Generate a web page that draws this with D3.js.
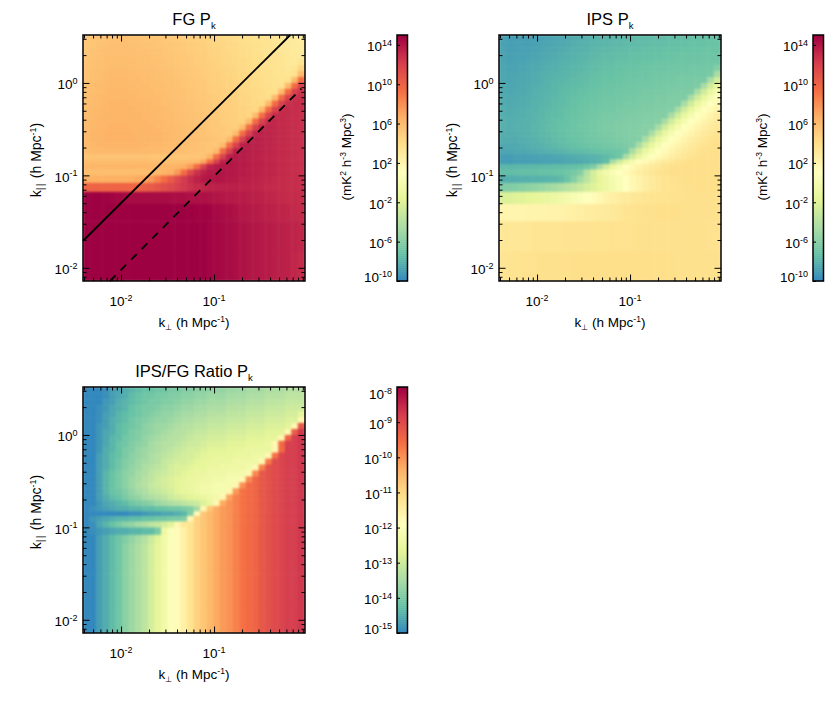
<!DOCTYPE html>
<html>
<head>
<meta charset="utf-8">
<script src="https://cdn.jsdelivr.net/npm/d3@7"></script>
<style>
html, body { margin: 0; padding: 0; background: #fff; }
text { font-family: "Liberation Sans", Arial, sans-serif; fill: #000; }
</style>
</head>
<body>
<svg id="chart" width="830" height="704"></svg>
<script>
// bin edges (h/Mpc)
var kPerpEdges = [.00389,.00457,.00537,.00631,.00741,.00871,.01023,.01202,.01413,.0166,.0195,.0229,.0269,.0316,.0372,.0437,.0513,.0603,.0708,.0832,.0977,.1148,.1349,.1585,.1862,.2188,.257,.302,.3548,.4169,.4898,.5754,.6761,.7943,.95];
var kParEdges = [3.3,2.83,2.44,2.1,1.82,1.56,1.35,1.16,1,.865,.746,.644,.555,.479,.413,.356,.307,.265,.228,.197,.17,.149,.133,.116,.0996,.083,.0663,.049,.032,.0149,.0072];

var xMajor = [.01, .1];
var xMinor = [.004,.005,.006,.007,.008,.009,.02,.03,.04,.05,.06,.07,.08,.09,.2,.3,.4,.5,.6,.7,.8,.9];
var yMajor = [.01, .1, 1];
var yMinor = [.008,.009,.02,.03,.04,.05,.06,.07,.08,.09,.2,.3,.4,.5,.6,.7,.8,.9,2,3];

// spectral, reversed, without the violet end
var spectralStops = ["#3288bd","#66c2a5","#abdda4","#e6f598","#ffffbf","#fee08b","#fdae61","#f46d43","#d53e4f","#9e0142"];

var pkBarDomain = [-10, 15], pkBarTicks = [-10, -6, -2, 2, 6, 10, 14];
var ratioBarDomain = [-15, -8], ratioBarTicks = [-15, -14, -13, -12, -11, -10, -9, -8];

// delay lines: horizon (solid), beam (dashed)
var horizonPerp = [.00389, .66], horizonPar = [.0195, 3.3];
var beamPerp = [.0076, .87], beamPar = [.0072, .87];

// log10 of the power, rows from the top of the plot
var fgLogPk = [
[5.2,5.4,5.5,5.6,5.6,5.6,5.6,5.6,5.5,5.5,5.4,5.4,5.3,5.2,5.1,5,4.9,4.8,4.7,4.6,4.5,4.3,4.2,4.1,4,3.9,3.7,3.6,3.5,3.3,3.2,3.1,2.9,2.8],
[5.3,5.4,5.5,5.6,5.7,5.7,5.7,5.6,5.6,5.5,5.5,5.4,5.3,5.3,5.2,5.1,5,4.9,4.8,4.6,4.5,4.4,4.3,4.2,4,3.9,3.8,3.7,3.5,3.4,3.3,3.1,3,2.9],
[5.3,5.5,5.6,5.7,5.7,5.7,5.7,5.7,5.6,5.6,5.5,5.5,5.4,5.3,5.2,5.1,5,4.9,4.8,4.7,4.6,4.4,4.3,4.2,4.1,4,3.8,3.7,3.6,3.4,3.3,3.2,3,2.9],
[5.4,5.5,5.6,5.7,5.8,5.8,5.8,5.7,5.7,5.6,5.6,5.5,5.4,5.4,5.3,5.2,5.1,5,4.9,4.7,4.6,4.5,4.4,4.3,4.1,4,3.9,3.8,3.6,3.5,3.4,3.2,3.1,3],
[5.4,5.6,5.7,5.8,5.8,5.8,5.8,5.8,5.7,5.7,5.6,5.6,5.5,5.4,5.3,5.2,5.1,5,4.9,4.8,4.7,4.5,4.4,4.3,4.2,4.1,3.9,3.8,3.7,3.5,3.4,3.3,3.1,3.4],
[5.5,5.6,5.7,5.8,5.9,5.9,5.9,5.8,5.8,5.7,5.7,5.6,5.5,5.5,5.4,5.3,5.2,5.1,5,4.8,4.7,4.6,4.5,4.4,4.2,4.1,4,3.9,3.7,3.6,3.5,3.3,3.4,4.5],
[5.5,5.7,5.8,5.9,5.9,5.9,5.9,5.9,5.8,5.8,5.7,5.7,5.6,5.5,5.4,5.3,5.2,5.1,5,4.9,4.8,4.6,4.5,4.4,4.3,4.2,4,3.9,3.8,3.6,3.5,3.4,3.7,6],
[5.6,5.7,5.8,5.9,6,6,6,5.9,5.9,5.8,5.8,5.7,5.6,5.6,5.5,5.4,5.3,5.2,5.1,4.9,4.8,4.7,4.6,4.5,4.3,4.2,4.1,4,3.8,3.7,3.6,3.7,6,9.5],
[5.6,5.8,5.9,6,6,6,6,6,5.9,5.9,5.8,5.8,5.7,5.6,5.5,5.4,5.3,5.2,5.1,5,4.9,4.7,4.6,4.5,4.4,4.3,4.1,4,3.9,3.7,3.7,6,9.5,12],
[5.7,5.8,5.9,6,6.1,6.1,6.1,6,6,5.9,5.9,5.8,5.7,5.7,5.6,5.5,5.4,5.3,5.2,5,4.9,4.8,4.7,4.6,4.4,4.3,4.2,4.1,3.9,3.8,6,9.5,12,12.7],
[5.7,5.9,6,6.1,6.1,6.1,6.1,6.1,6,6,5.9,5.9,5.8,5.7,5.6,5.5,5.4,5.3,5.2,5.1,5,4.8,4.7,4.6,4.5,4.4,4.2,4.1,4,6,9.5,12,12.8,12.9],
[5.8,5.9,6,6.1,6.2,6.2,6.2,6.1,6.1,6,6,5.9,5.8,5.8,5.7,5.6,5.5,5.4,5.3,5.1,5,4.9,4.8,4.7,4.5,4.4,4.3,4.2,6,9.5,12,12.9,13,12.9],
[5.8,6,6.1,6.2,6.2,6.2,6.2,6.2,6.1,6.1,6,6,5.9,5.8,5.7,5.6,5.5,5.4,5.3,5.2,5.1,4.9,4.8,4.7,4.6,4.5,4.3,6,9.5,12,13,13.1,13,12.9],
[5.9,6,6.1,6.2,6.3,6.3,6.3,6.2,6.2,6.1,6.1,6,5.9,5.9,5.8,5.7,5.6,5.5,5.4,5.2,5.1,5,4.9,4.8,4.6,4.5,6,9.5,12,13.1,13.2,13.1,13,12.9],
[5.9,6.1,6.2,6.3,6.3,6.3,6.3,6.3,6.2,6.2,6.1,6.1,6,5.9,5.8,5.7,5.6,5.5,5.4,5.3,5.2,5,4.9,4.8,4.7,6,9.5,12,13.2,13.3,13.2,13.1,13,12.9],
[6,6.1,6.2,6.3,6.4,6.4,6.4,6.3,6.3,6.2,6.2,6.1,6,6,5.9,5.8,5.7,5.6,5.5,5.3,5.2,5.1,5,4.9,6,9.5,12,13.3,13.4,13.3,13.2,13.1,13,12.9],
[6,6.2,6.3,6.4,6.4,6.4,6.4,6.4,6.3,6.3,6.2,6.2,6.1,6,5.9,5.8,5.7,5.6,5.5,5.4,5.3,5.1,5,6,9.5,12,13.4,13.5,13.4,13.3,13.2,13.1,13,12.9],
[6,6.2,6.3,6.4,6.4,6.4,6.4,6.4,6.3,6.3,6.2,6.2,6.1,6,5.9,5.8,5.8,5.7,5.6,5.5,5.4,5.2,6,9.5,12,13.5,13.6,13.5,13.4,13.3,13.2,13.1,13,12.9],
[6,6.1,6.2,6.3,6.3,6.3,6.3,6.3,6.2,6.2,6.1,6.1,6,5.9,5.9,5.8,5.7,5.6,5.5,5.4,5.3,6,9.5,12,13.6,13.7,13.6,13.5,13.4,13.3,13.2,13.1,13,12.9],
[5.9,6,6.1,6.1,6.1,6.1,6.1,6.1,6.1,6,6,6,5.9,5.9,5.8,5.7,5.6,5.6,5.5,5.4,6,9.5,12,13.7,13.8,13.7,13.6,13.5,13.4,13.3,13.2,13.1,13,12.9],
[5.4,5.5,5.5,5.5,5.5,5.5,5.5,5.5,5.5,5.5,5.4,5.4,5.4,5.4,5.4,5.4,5.4,5.4,5.5,6.5,9.5,12,13.7,13.9,13.8,13.7,13.6,13.5,13.4,13.3,13.2,13.1,13,12.9],
[5.8,5.9,5.9,5.9,5.9,5.9,5.9,5.9,5.9,5.9,5.8,5.8,5.8,5.8,5.8,5.8,5.9,6,7,9.5,12,13.6,13.9,13.9,13.8,13.7,13.6,13.5,13.4,13.3,13.2,13.1,13,12.9],
[6.1,6.2,6.2,6.2,6.2,6.2,6.2,6.2,6.2,6.2,6.2,6.2,6.2,6.3,6.4,6.6,7.5,9.5,12,13.5,13.9,14,14,13.9,13.8,13.7,13.6,13.5,13.4,13.3,13.2,13.1,13,12.9],
[5.7,5.8,5.8,5.8,5.8,5.8,5.8,5.8,5.8,5.8,5.9,6,6.2,6.5,7.5,9.5,11.5,12.8,13.5,13.9,14,14.1,14,13.9,13.8,13.7,13.6,13.5,13.4,13.3,13.2,13.1,13,12.9],
[6.4,6.5,6.5,6.5,6.5,6.5,6.5,6.6,6.8,7,7.5,8.5,9.5,10.5,11.5,12.3,13,13.5,13.9,14.1,14.1,14,13.9,13.8,13.7,13.6,13.5,13.4,13.3,13.2,13.1,13,13,12.9],
[10,10,10,10,10,10,10,10,10.1,10.3,10.5,10.8,11.2,11.6,12,12.4,12.8,13.1,13.3,13.5,13.6,13.6,13.6,13.6,13.5,13.5,13.4,13.3,13.2,13.1,13.1,13,13,12.9],
[15.2,15.2,15.2,14.9,14.8,14.7,14.6,14.5,14.5,14.5,14.5,14.5,14.5,14.4,14.4,14.4,14.3,14.3,14.3,14.2,14.1,14,13.9,13.8,13.8,13.7,13.6,13.5,13.4,13.3,13.2,13.1,13.1,13],
[15.2,15.2,15.2,15.2,15.2,15.2,15.2,15.2,15.2,15.2,15.2,15.2,15.2,15.1,15.1,15,15,14.9,14.9,14.8,14.6,14.5,14.4,14.2,14,13.9,13.8,13.7,13.6,13.5,13.4,13.3,13.2,13.1],
[15.2,15.2,15.2,15.2,15.2,15.2,15.2,15.2,15.2,15.2,15.2,15.2,15.2,15.2,15.2,15.2,15.2,15.2,15.2,14.8,14.7,14.6,14.5,14.4,14.2,14.1,14,13.9,13.8,13.7,13.6,13.5,13.4,13.3],
[15.2,15.2,15.2,15.2,15.2,15.2,15.2,15.2,15.2,15.2,15.2,15.2,15.2,15.2,15.2,15.2,15.2,15.2,15.2,14.8,14.7,14.6,14.5,14.4,14.2,14.1,14,13.9,13.8,13.7,13.6,13.5,13.3,13.1]
];

var ipsLogPk = [
[-8.8,-9,-9,-9,-9,-8.9,-8.8,-8.7,-8.6,-8.5,-8.4,-8.3,-8.2,-8.1,-8,-7.9,-7.9,-7.8,-7.8,-7.7,-7.7,-7.6,-7.6,-7.5,-7.5,-7.5,-7.4,-7.4,-7.4,-7.3,-7.3,-7.3,-7.2,-7.2],
[-8.8,-8.9,-8.9,-8.9,-8.9,-8.8,-8.7,-8.6,-8.5,-8.4,-8.3,-8.2,-8.1,-8,-7.9,-7.8,-7.8,-7.7,-7.7,-7.6,-7.6,-7.5,-7.5,-7.4,-7.4,-7.4,-7.3,-7.3,-7.3,-7.2,-7.2,-7.2,-7.1,-7.1],
[-8.7,-8.9,-8.9,-8.8,-8.8,-8.7,-8.6,-8.5,-8.4,-8.3,-8.2,-8.1,-8,-7.9,-7.8,-7.7,-7.7,-7.6,-7.5,-7.5,-7.4,-7.4,-7.3,-7.3,-7.3,-7.2,-7.2,-7.2,-7.1,-7.1,-7.1,-7,-7,-7],
[-8.7,-8.8,-8.8,-8.8,-8.7,-8.6,-8.5,-8.4,-8.3,-8.2,-8.1,-8,-7.9,-7.8,-7.7,-7.6,-7.5,-7.5,-7.4,-7.4,-7.3,-7.3,-7.2,-7.2,-7.2,-7.1,-7.1,-7,-7,-7,-7,-6.9,-6.9,-6.9],
[-8.6,-8.8,-8.7,-8.7,-8.6,-8.5,-8.4,-8.3,-8.2,-8.1,-8,-7.9,-7.8,-7.7,-7.6,-7.5,-7.4,-7.4,-7.3,-7.3,-7.2,-7.2,-7.1,-7.1,-7,-7,-7,-6.9,-6.9,-6.9,-6.9,-6.8,-6.8,-6.8],
[-8.6,-8.7,-8.7,-8.6,-8.5,-8.4,-8.3,-8.2,-8.1,-8,-7.9,-7.8,-7.7,-7.6,-7.5,-7.4,-7.3,-7.3,-7.2,-7.1,-7.1,-7,-7,-6.9,-6.9,-6.9,-6.8,-6.8,-6.8,-6.7,-6.7,-6.7,-6.7,-6],
[-8.5,-8.6,-8.6,-8.5,-8.4,-8.3,-8.2,-8.1,-8,-7.9,-7.8,-7.7,-7.6,-7.5,-7.4,-7.3,-7.2,-7.2,-7.1,-7,-7,-6.9,-6.9,-6.8,-6.8,-6.7,-6.7,-6.7,-6.6,-6.6,-6.6,-6.6,-6.5,-4.5],
[-8.5,-8.6,-8.5,-8.5,-8.4,-8.3,-8.2,-8,-7.9,-7.8,-7.7,-7.6,-7.5,-7.4,-7.3,-7.2,-7.1,-7.1,-7,-6.9,-6.9,-6.8,-6.8,-6.7,-6.7,-6.6,-6.6,-6.5,-6.5,-6.5,-6.4,-6.4,-4.5,-2.7],
[-8.4,-8.5,-8.5,-8.4,-8.3,-8.2,-8.1,-8,-7.8,-7.7,-7.6,-7.5,-7.4,-7.3,-7.2,-7.1,-7,-7,-6.9,-6.8,-6.8,-6.7,-6.7,-6.6,-6.6,-6.5,-6.5,-6.4,-6.4,-6.4,-6.3,-4.5,-2.7,-1.2],
[-8.4,-8.5,-8.4,-8.4,-8.3,-8.1,-8,-7.9,-7.8,-7.6,-7.5,-7.4,-7.3,-7.2,-7.1,-7,-6.9,-6.9,-6.8,-6.7,-6.7,-6.6,-6.5,-6.5,-6.4,-6.4,-6.3,-6.3,-6.3,-6.2,-4.5,-2.7,-1.2,0],
[-8.3,-8.4,-8.4,-8.3,-8.2,-8.1,-8,-7.8,-7.7,-7.6,-7.4,-7.3,-7.2,-7.1,-7,-6.9,-6.8,-6.8,-6.7,-6.6,-6.6,-6.5,-6.4,-6.4,-6.3,-6.3,-6.2,-6.2,-6.2,-4.5,-2.7,-1.2,0,1],
[-8.3,-8.4,-8.3,-8.3,-8.2,-8,-7.9,-7.8,-7.6,-7.5,-7.4,-7.2,-7.1,-7,-6.9,-6.8,-6.7,-6.7,-6.6,-6.5,-6.5,-6.4,-6.3,-6.3,-6.2,-6.2,-6.1,-6.1,-4.5,-2.7,-1.2,0,1,1.6],
[-8.2,-8.3,-8.3,-8.2,-8.1,-8,-7.8,-7.7,-7.6,-7.4,-7.3,-7.2,-7,-6.9,-6.8,-6.7,-6.6,-6.6,-6.5,-6.4,-6.4,-6.3,-6.2,-6.2,-6.1,-6.1,-6,-4.5,-2.7,-1.2,0,1,1.6,2.1],
[-8.2,-8.3,-8.2,-8.2,-8.1,-7.9,-7.8,-7.6,-7.5,-7.4,-7.2,-7.1,-7,-6.8,-6.7,-6.6,-6.5,-6.5,-6.4,-6.3,-6.3,-6.2,-6.1,-6.1,-6,-6,-4.5,-2.7,-1.2,0,1,1.6,2.1,2.6],
[-8.1,-8.2,-8.2,-8.1,-8,-7.9,-7.7,-7.6,-7.4,-7.3,-7.2,-7,-6.9,-6.8,-6.6,-6.5,-6.4,-6.4,-6.3,-6.2,-6.2,-6.1,-6,-6,-5.9,-4.5,-2.7,-1.2,0,1,1.6,2.1,2.6,3],
[-8.1,-8.2,-8.1,-8.1,-8,-7.8,-7.7,-7.5,-7.4,-7.2,-7.1,-7,-6.8,-6.7,-6.6,-6.4,-6.3,-6.3,-6.2,-6.1,-6.1,-6,-5.9,-5.9,-4.5,-2.7,-1.2,0,1,1.6,2.1,2.6,3,3.3],
[-8.2,-8.2,-8.2,-8.1,-8,-7.9,-7.7,-7.6,-7.4,-7.3,-7.1,-7,-6.9,-6.7,-6.6,-6.5,-6.4,-6.3,-6.2,-6.1,-6,-5.9,-5.9,-4.5,-2.7,-1.2,0,1,1.6,2.1,2.6,3,3.3,3.6],
[-8.3,-8.3,-8.3,-8.2,-8.1,-8,-7.8,-7.7,-7.5,-7.4,-7.2,-7.1,-7,-6.8,-6.7,-6.6,-6.5,-6.4,-6.3,-6.2,-6.1,-6,-4.5,-2.7,-1.2,0,1,1.6,2.1,2.6,3,3.3,3.6,3.8],
[-8.4,-8.4,-8.4,-8.3,-8.2,-8.1,-8,-7.8,-7.7,-7.5,-7.4,-7.3,-7.1,-7,-6.9,-6.8,-6.7,-6.6,-6.5,-6.3,-6.1,-4.5,-2.7,-1.2,0,1,1.6,2.1,2.6,3,3.3,3.6,3.8,3.9],
[-8.6,-8.6,-8.5,-8.5,-8.4,-8.3,-8.2,-8.1,-8,-7.9,-7.7,-7.6,-7.5,-7.4,-7.3,-7.2,-7.1,-7,-6.9,-6.5,-4.5,-2.7,-1.2,0,1,1.6,2.1,2.6,3,3.3,3.6,3.8,3.9,3.9],
[-9,-9,-8.9,-8.9,-8.8,-8.8,-8.7,-8.7,-8.6,-8.5,-8.4,-8.3,-8.2,-8.1,-8,-7.8,-7.6,-7.3,-6.8,-4.5,-2.7,-1.2,0,1,1.6,2.1,2.6,3,3.3,3.6,3.8,3.9,3.9,3.9],
[-9.1,-9.1,-9,-9,-9,-8.9,-8.9,-8.8,-8.8,-8.7,-8.6,-8.5,-8.4,-8.3,-8.1,-7.9,-7.5,-4.5,-2.7,-1.2,0,1,1.6,2.1,2.6,3,3.3,3.6,3.8,3.9,3.9,3.9,3.9,3.9],
[-7.8,-7.8,-7.8,-7.7,-7.7,-7.7,-7.6,-7.6,-7.5,-7.5,-7.4,-7.3,-7.2,-6.8,-6.2,-4.5,-2.7,-1.2,0,1,1.6,2.1,2.6,3,3.3,3.6,3.8,3.9,3.9,3.9,3.9,3.9,3.9,3.9],
[-7.4,-7.4,-7.4,-7.3,-7.3,-7.3,-7.2,-7.2,-7.1,-7,-6.8,-6.5,-6,-4,-2.5,-1.2,-.2,.5,1.1,1.6,2.1,2.6,3,3.3,3.6,3.8,3.9,3.9,3.9,3.9,3.9,3.9,3.9,3.9],
[-8.2,-8.2,-8.2,-8.1,-8.1,-8,-8,-7.9,-7.8,-7.6,-7,-6,-4.8,-3.6,-2.5,-1.6,-.8,-.1,.5,1.1,1.7,2.2,2.6,3,3.3,3.5,3.7,3.8,3.9,3.9,3.9,3.9,3.9,3.9],
[-6.2,-6.1,-6,-5.8,-5.6,-5.4,-5.2,-4.9,-4.6,-4.3,-3.9,-3.5,-3,-2.5,-2,-1.4,-.8,-.2,.5,1.1,1.7,2.2,2.6,3,3.3,3.5,3.6,3.7,3.8,3.8,3.9,3.9,3.9,3.9],
[-2.2,-2.1,-2,-1.9,-1.7,-1.5,-1.3,-1.1,-.8,-.5,-.2,.2,.6,1,1.4,1.8,2.2,2.5,2.8,3,3.2,3.3,3.4,3.5,3.6,3.6,3.7,3.7,3.8,3.8,3.8,3.8,3.8,3.8],
[2,2,2,2,2.1,2.1,2.1,2.2,2.2,2.3,2.4,2.5,2.6,2.7,2.8,2.9,3,3.1,3.3,3.5,3.6,3.7,3.8,3.8,3.9,3.9,3.9,3.9,3.8,3.8,3.8,3.8,3.8,3.8],
[3.3,3.3,3.3,3.3,3.3,3.4,3.4,3.4,3.4,3.4,3.5,3.5,3.5,3.5,3.6,3.6,3.6,3.7,3.7,3.7,3.7,3.8,3.8,3.8,3.8,3.8,3.8,3.8,3.8,3.8,3.8,3.8,3.7,3.7],
[3.4,3.5,3.6,3.7,3.7,3.7,3.8,3.8,3.8,3.8,3.8,3.9,3.9,3.9,3.9,3.9,3.9,3.9,3.9,3.9,3.9,3.9,3.9,3.9,3.9,3.9,3.9,3.8,3.8,3.8,3.8,3.8,3.8,3.8]
];

var ratioLowRow = [-15.1,-15,-14.7,-14.5,-14.3,-14.1,-13.8,-13.6,-13.4,-13.2,-12.9,-12.6,-12.3,-12,-11.8,-11.5,-11.2,-10.9,-10.7,-10.5,-10.3,-10.1,-10,-9.8,-9.6,-9.5,-9.4,-9.2,-9.1,-9,-8.9,-8.8,-8.8,-8.7];

var ratioLogPk = [
[-15.1,-15.1,-15,-14.9,-14.7,-14.6,-14.5,-14.4,-14.3,-14.2,-14.2,-14.1,-14.1,-14,-14,-13.9,-13.9,-13.8,-13.8,-13.7,-13.7,-13.7,-13.6,-13.6,-13.6,-13.5,-13.5,-13.5,-13.4,-13.4,-13.4,-13.3,-13.3,-13.3],
[-15.1,-15.1,-15,-14.9,-14.7,-14.6,-14.5,-14.3,-14.2,-14.1,-14.1,-14,-14,-13.9,-13.9,-13.8,-13.8,-13.7,-13.7,-13.6,-13.6,-13.6,-13.5,-13.5,-13.5,-13.4,-13.4,-13.4,-13.3,-13.3,-13.3,-13.2,-13.2,-13.2],
[-15.1,-15.1,-15,-14.8,-14.7,-14.5,-14.4,-14.3,-14.2,-14.1,-14,-14,-13.9,-13.9,-13.8,-13.7,-13.7,-13.6,-13.6,-13.5,-13.5,-13.5,-13.4,-13.4,-13.4,-13.3,-13.3,-13.3,-13.2,-13.2,-13.2,-13.1,-13.1,-13.1],
[-15.1,-15,-14.9,-14.8,-14.6,-14.5,-14.4,-14.2,-14.1,-14,-14,-13.9,-13.8,-13.8,-13.7,-13.6,-13.6,-13.5,-13.5,-13.4,-13.4,-13.4,-13.3,-13.3,-13.3,-13.2,-13.2,-13.2,-13.1,-13.1,-13.1,-13,-13,-13],
[-15.1,-15,-14.9,-14.7,-14.6,-14.4,-14.3,-14.2,-14.1,-14,-13.9,-13.8,-13.7,-13.7,-13.6,-13.5,-13.5,-13.4,-13.4,-13.3,-13.3,-13.3,-13.2,-13.2,-13.2,-13.1,-13.1,-13.1,-13,-13,-13,-12.9,-12.9,-12.6],
[-15.1,-15,-14.9,-14.7,-14.5,-14.4,-14.3,-14.1,-14,-13.9,-13.8,-13.7,-13.7,-13.6,-13.5,-13.4,-13.4,-13.3,-13.3,-13.2,-13.2,-13.2,-13.1,-13.1,-13.1,-13,-13,-13,-12.9,-12.9,-12.9,-12.8,-12.8,-11.7],
[-15.1,-15,-14.8,-14.7,-14.5,-14.3,-14.2,-14.1,-14,-13.8,-13.7,-13.6,-13.6,-13.5,-13.4,-13.3,-13.3,-13.2,-13.2,-13.1,-13.1,-13.1,-13,-13,-13,-12.9,-12.9,-12.9,-12.8,-12.8,-12.8,-12.7,-11.7,-9.2],
[-15.1,-15,-14.8,-14.6,-14.5,-14.3,-14.2,-14,-13.9,-13.8,-13.7,-13.6,-13.5,-13.4,-13.3,-13.3,-13.2,-13.1,-13.1,-13,-13,-13,-12.9,-12.9,-12.9,-12.8,-12.8,-12.8,-12.7,-12.7,-12.7,-11.7,-9.3,-8.7],
[-15.1,-15,-14.8,-14.6,-14.4,-14.3,-14.1,-14,-13.9,-13.7,-13.6,-13.5,-13.4,-13.3,-13.3,-13.2,-13.1,-13,-13,-12.9,-12.9,-12.9,-12.8,-12.8,-12.8,-12.7,-12.7,-12.7,-12.6,-12.6,-11.7,-9.4,-8.8,-8.7],
[-15.1,-15,-14.8,-14.6,-14.4,-14.2,-14.1,-13.9,-13.8,-13.7,-13.5,-13.4,-13.3,-13.3,-13.2,-13.1,-13,-13,-12.9,-12.8,-12.8,-12.8,-12.7,-12.7,-12.7,-12.6,-12.6,-12.6,-12.5,-11.7,-9.5,-8.8,-8.8,-8.7],
[-15.1,-15,-14.8,-14.5,-14.4,-14.2,-14,-13.9,-13.7,-13.6,-13.5,-13.4,-13.3,-13.2,-13.1,-13,-12.9,-12.9,-12.8,-12.7,-12.7,-12.7,-12.6,-12.6,-12.6,-12.5,-12.5,-12.5,-12.5,-11.7,-9.5,-8.8,-8.8,-8.7],
[-15.1,-15,-14.7,-14.5,-14.3,-14.2,-14,-13.8,-13.7,-13.6,-13.4,-13.3,-13.2,-13.1,-13,-12.9,-12.9,-12.8,-12.7,-12.6,-12.6,-12.6,-12.6,-12.5,-12.5,-12.5,-12.4,-12.4,-11.7,-9.6,-8.9,-8.8,-8.8,-8.7],
[-15.1,-15,-14.7,-14.5,-14.3,-14.1,-13.9,-13.8,-13.6,-13.5,-13.4,-13.3,-13.1,-13,-12.9,-12.9,-12.8,-12.7,-12.6,-12.6,-12.5,-12.5,-12.5,-12.4,-12.4,-12.4,-12.4,-11.7,-9.7,-9,-8.9,-8.8,-8.8,-8.7],
[-15.1,-15,-14.7,-14.5,-14.3,-14.1,-13.9,-13.7,-13.6,-13.4,-13.3,-13.2,-13.1,-12.9,-12.8,-12.8,-12.7,-12.6,-12.6,-12.5,-12.5,-12.4,-12.4,-12.4,-12.4,-12.3,-11.7,-9.8,-9.1,-9,-8.9,-8.8,-8.8,-8.7],
[-15.1,-15,-14.7,-14.4,-14.2,-14,-13.8,-13.7,-13.5,-13.4,-13.2,-13.1,-13,-12.9,-12.8,-12.7,-12.6,-12.5,-12.5,-12.4,-12.4,-12.4,-12.3,-12.3,-12.3,-11.7,-9.9,-9.2,-9.1,-9,-8.9,-8.8,-8.8,-8.7],
[-15.1,-15,-14.7,-14.4,-14.2,-14,-13.8,-13.6,-13.5,-13.3,-13.2,-13,-12.9,-12.8,-12.7,-12.6,-12.5,-12.5,-12.4,-12.4,-12.3,-12.3,-12.2,-12.2,-11.7,-9.9,-9.4,-9.2,-9.1,-9,-8.9,-8.8,-8.8,-8.7],
[-15.1,-15,-14.7,-14.4,-14.2,-14,-13.8,-13.6,-13.4,-13.3,-13.1,-13,-12.9,-12.8,-12.7,-12.6,-12.5,-12.4,-12.3,-12.3,-12.2,-12.2,-12.2,-11.7,-10,-9.5,-9.4,-9.2,-9.1,-9,-8.9,-8.8,-8.8,-8.7],
[-15.1,-15,-14.7,-14.4,-14.2,-14.1,-13.9,-13.7,-13.5,-13.4,-13.2,-13.1,-13,-12.9,-12.7,-12.6,-12.5,-12.4,-12.3,-12.3,-12.2,-12.2,-11.7,-10.1,-9.6,-9.5,-9.4,-9.2,-9.1,-9,-8.9,-8.8,-8.8,-8.7],
[-15.1,-15,-14.7,-14.5,-14.3,-14.2,-14,-13.8,-13.7,-13.5,-13.4,-13.3,-13.2,-13,-12.9,-12.8,-12.7,-12.6,-12.5,-12.4,-12.3,-11.7,-10.2,-9.8,-9.6,-9.5,-9.4,-9.2,-9.1,-9,-8.9,-8.8,-8.8,-8.7],
[-15.1,-15,-14.8,-14.6,-14.5,-14.4,-14.3,-14.1,-14,-13.9,-13.8,-13.6,-13.5,-13.4,-13.3,-13.2,-13.1,-13,-12.8,-12.5,-11.7,-10.3,-10,-9.8,-9.6,-9.5,-9.4,-9.2,-9.1,-9,-8.9,-8.8,-8.8,-8.7],
[-15,-14.9,-14.8,-14.7,-14.6,-14.5,-14.5,-14.4,-14.4,-14.3,-14.3,-14.2,-14.2,-14.1,-14.1,-14,-13.9,-13.5,-11.7,-10.7,-10.3,-10.1,-10,-9.8,-9.6,-9.5,-9.4,-9.2,-9.1,-9,-8.9,-8.8,-8.8,-8.7],
[-15.1,-15.1,-15.1,-15.1,-15,-15,-15,-14.9,-14.9,-14.8,-14.7,-14.7,-14.6,-14.6,-14.5,-14.4,-13.9,-11.8,-10.7,-10.5,-10.3,-10.1,-10,-9.8,-9.6,-9.5,-9.4,-9.2,-9.1,-9,-8.9,-8.8,-8.8,-8.7],
[-15,-14.8,-14.7,-14.6,-14.5,-14.4,-14.4,-14.3,-14.3,-14.2,-14.2,-14.1,-14.1,-14,-14,-13.9,-11.7,-10.9,-10.7,-10.5,-10.3,-10.1,-10,-9.8,-9.6,-9.5,-9.4,-9.2,-9.1,-9,-8.9,-8.8,-8.8,-8.7],
[-15,-14.9,-14.6,-14.4,-14.2,-14,-13.8,-13.7,-13.5,-13.4,-13.2,-13.1,-12.9,-12.7,-11.7,-11.3,-11.2,-10.9,-10.7,-10.5,-10.3,-10.1,-10,-9.8,-9.6,-9.5,-9.4,-9.2,-9.1,-9,-8.9,-8.8,-8.8,-8.7],
[-15,-14.9,-14.8,-14.7,-14.6,-14.5,-14.5,-14.4,-14.4,-14.3,-14.3,-14,-12.4,-12,-11.8,-11.5,-11.2,-10.9,-10.7,-10.5,-10.3,-10.1,-10,-9.8,-9.6,-9.5,-9.4,-9.2,-9.1,-9,-8.9,-8.8,-8.8,-8.7],
[-15.1,-15,-14.7,-14.5,-14.3,-14.1,-13.9,-13.7,-13.5,-13.3,-13,-12.7,-12.3,-12,-11.8,-11.5,-11.2,-10.9,-10.7,-10.5,-10.3,-10.1,-10,-9.8,-9.6,-9.5,-9.4,-9.2,-9.1,-9,-8.9,-8.8,-8.8,-8.7],
ratioLowRow, ratioLowRow, ratioLowRow, ratioLowRow
];

var svg = d3.select("#chart"),
    rampColors = d3.piecewise(d3.interpolateRgb, spectralStops);

// soft edges between the cells, the original heat map is resampled
var blur = svg.append("defs").append("filter").attr("id", "soften")
    .attr("x", "-5%").attr("y", "-5%").attr("width", "110%").attr("height", "110%")
    .attr("color-interpolation-filters", "sRGB");
blur.append("feGaussianBlur").attr("stdDeviation", 1.1).attr("edgeMode", "duplicate");

function power_label(g, x, y, exp, anchor) {
    var t = g.append("text").attr("x", x).attr("y", y).attr("text-anchor", anchor).style("font-size", "13.5px");
    t.append("tspan").text("10");
    t.append("tspan").attr("dy", -5.5).style("font-size", "9px").text(exp);
}

function log_axes(g, x, y, box) {
    var sides = [
        {axis: d3.axisBottom(x), pos: [0, box.bottom], ticks: [xMajor, xMinor]},
        {axis: d3.axisTop(x), pos: [0, box.top], ticks: [xMajor, xMinor]},
        {axis: d3.axisLeft(y), pos: [box.left, 0], ticks: [yMajor, yMinor]},
        {axis: d3.axisRight(y), pos: [box.right, 0], ticks: [yMajor, yMinor]}
    ];
    sides.forEach(s => {
        [0, 1].forEach(i => {
            var a = g.append("g").attr("transform", "translate(" + s.pos + ")")
                .call(s.axis.tickValues(s.ticks[i]).tickSize(i == 0 ? -6.5 : -3.5).tickFormat(""));
            a.select(".domain").remove();
            a.selectAll("line").attr("stroke", "#000").attr("stroke-width", 1);
        });
    });
}

function draw_panel(opt) {
    var box = {left: opt.left, right: opt.left + 222, top: opt.top, bottom: opt.top + 246},
        g = svg.append("g");

    var x = d3.scaleLog().domain([.0039, .95]).range([box.left, box.right]),
        y = d3.scaleLog().domain([.0072, 3.3]).range([box.bottom, box.top]),
        color = d3.scaleSequential(rampColors).domain(opt.barDomain).clamp(true);

    var clipId = "clip" + opt.left + "_" + opt.top;
    g.append("clipPath").attr("id", clipId).append("rect")
        .attr("x", box.left).attr("y", box.top).attr("width", 222).attr("height", 246);

    var cells = g.append("g").attr("clip-path", "url(#" + clipId + ")")
        .append("g").attr("filter", "url(#soften)");

    opt.values.forEach((row, r) => {
        cells.selectAll(null)
            .data(row)
            .enter().append("rect")
            .attr("x", (d, c) => x(kPerpEdges[c]))
            .attr("y", y(kParEdges[r]))
            .attr("width", (d, c) => x(kPerpEdges[c + 1]) - x(kPerpEdges[c]) + 0.5)
            .attr("height", y(kParEdges[r + 1]) - y(kParEdges[r]) + 0.5)
            .attr("fill", d => color(d));
    });

    if(opt.lines) {
        var line = d3.line().x(d => x(d[0])).y(d => y(d[1]));
        g.append("path").datum(d3.zip(horizonPerp, horizonPar))
            .attr("d", line).attr("fill", "none").attr("stroke", "#000").attr("stroke-width", 1.8);
        g.append("path").datum(d3.zip(beamPerp, beamPar))
            .attr("d", line).attr("fill", "none").attr("stroke", "#000").attr("stroke-width", 1.8)
            .attr("stroke-dasharray", "8,7");
    }

    log_axes(g, x, y, box);
    g.append("rect").attr("x", box.left).attr("y", box.top).attr("width", 222).attr("height", 246)
        .attr("fill", "none").attr("stroke", "#000").attr("stroke-width", 1.5);

    xMajor.forEach(k => power_label(g, x(k), box.bottom + 25, Math.round(Math.log10(k)), "middle"));
    yMajor.forEach(k => power_label(g, box.left - 5.5, y(k) + 6.5, Math.round(Math.log10(k)), "end"));

    // title
    var title = g.append("text").attr("x", box.left + 111).attr("y", box.top - 10)
        .attr("text-anchor", "middle").style("font-size", "16.5px");
    title.append("tspan").text(opt.title);
    title.append("tspan").attr("dy", 4).style("font-size", "9.5px").text("k");

    // x label
    var xl = g.append("text").attr("x", box.left + 111).attr("y", box.bottom + 46)
        .attr("text-anchor", "middle").style("font-size", "13.5px");
    xl.append("tspan").text("k");
    xl.append("tspan").attr("dy", 3).style("font-size", "8px").style("font-family", "DejaVu Sans").text("\u22a5");
    xl.append("tspan").attr("dy", -3).text(" (h Mpc");
    xl.append("tspan").attr("dy", -5).style("font-size", "8.5px").text("-1");
    xl.append("tspan").attr("dy", 5).text(")");

    // y label
    var yl = g.append("text")
        .attr("transform", "translate(" + (box.left - 42) + "," + (box.top + 125) + ") rotate(-90)")
        .attr("text-anchor", "middle").style("font-size", "14px");
    yl.append("tspan").text("k");
    yl.append("tspan").attr("dy", 3).style("font-size", "10px").style("letter-spacing", "1.5px").text("||");
    yl.append("tspan").attr("dy", -3).text(" (h Mpc");
    yl.append("tspan").attr("dy", -5).style("font-size", "9px").text("-1");
    yl.append("tspan").attr("dy", 5).text(")");

    draw_colorbar(g, opt, box, color);
}

function draw_colorbar(g, opt, box, color) {
    var barLeft = box.left + 314, barWidth = 10.5,
        bar = d3.scaleLinear().domain(opt.barDomain).range([box.bottom, box.top]);

    var steps = d3.range(0, 124).map(i => opt.barDomain[0] + (opt.barDomain[1] - opt.barDomain[0]) * i / 124),
        stepSize = (opt.barDomain[1] - opt.barDomain[0]) / 124;

    g.append("g").selectAll("rect")
        .data(steps)
        .enter().append("rect")
        .attr("x", barLeft).attr("width", barWidth)
        .attr("y", d => bar(d + stepSize))
        .attr("height", d => bar(d) - bar(d + stepSize) + 0.5)
        .attr("fill", d => color(d + stepSize / 2));

    var a = g.append("g").attr("transform", "translate(" + barLeft + ",0)")
        .call(d3.axisRight(bar).tickValues(opt.barTicks).tickSize(3).tickFormat(""));
    a.select(".domain").remove();
    a.selectAll("line").attr("stroke", "#000").attr("stroke-width", 1);

    g.append("rect").attr("x", barLeft).attr("y", box.top).attr("width", barWidth).attr("height", 246)
        .attr("fill", "none").attr("stroke", "#000").attr("stroke-width", 1.5);

    opt.barTicks.forEach(v => {
        var shift = 6.5;
        if(bar(v) - box.top < 3) { shift = 12; }
        if(box.bottom - bar(v) < 3) { shift = 1; }
        power_label(g, barLeft - 5, bar(v) + shift, v, "end");
    });

    if(opt.barLabel) {
        var l = g.append("text")
            .attr("transform", "translate(" + (box.left + 268) + "," + (box.top + 122) + ") rotate(-90)")
            .attr("text-anchor", "middle").style("font-size", "13.5px");
        l.append("tspan").text("(mK");
        l.append("tspan").attr("dy", -5).style("font-size", "8.5px").text("2");
        l.append("tspan").attr("dy", 5).text(" h");
        l.append("tspan").attr("dy", -5).style("font-size", "8.5px").text("-3");
        l.append("tspan").attr("dy", 5).text(" Mpc");
        l.append("tspan").attr("dy", -5).style("font-size", "8.5px").text("3");
        l.append("tspan").attr("dy", 5).text(")");
    }
}

draw_panel({left: 83, top: 35, values: fgLogPk, title: "FG P", lines: true,
    barDomain: pkBarDomain, barTicks: pkBarTicks, barLabel: true});
draw_panel({left: 499, top: 35, values: ipsLogPk, title: "IPS P", lines: false,
    barDomain: pkBarDomain, barTicks: pkBarTicks, barLabel: true});
draw_panel({left: 83, top: 387, values: ratioLogPk, title: "IPS/FG Ratio P", lines: false,
    barDomain: ratioBarDomain, barTicks: ratioBarTicks, barLabel: false});
</script>
</body>
</html>
